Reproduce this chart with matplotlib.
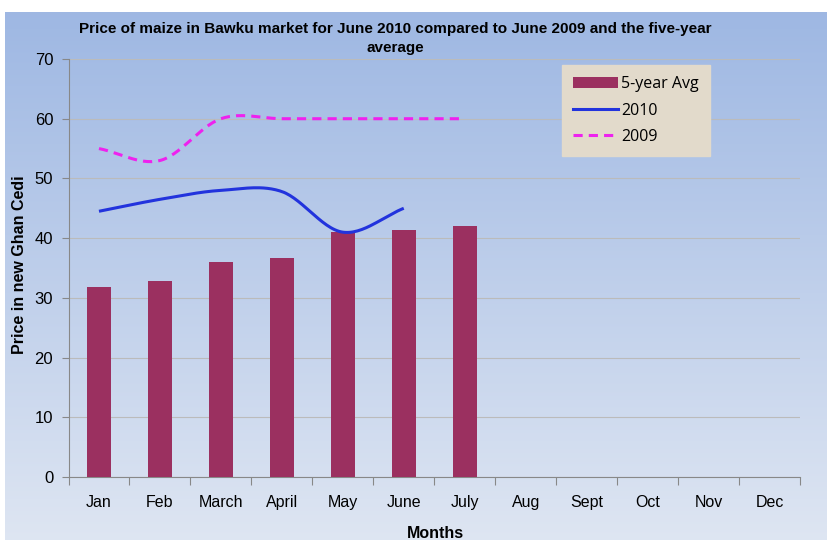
import numpy as np
import matplotlib
matplotlib.use("Agg")
import matplotlib.pyplot as plt
from matplotlib.lines import Line2D
from matplotlib.patches import Patch

months = ["Jan", "Feb", "March", "April", "May", "June", "July",
          "Aug", "Sept", "Oct", "Nov", "Dec"]
avg5 = [31.8, 32.8, 36.0, 36.7, 41.0, 41.3, 42.0]
y2010 = [44.5, 46.5, 48.0, 47.8, 41.0, 45.0]
y2009 = [55.0, 53.0, 60.0, 60.0, 60.0, 60.0, 60.0]
yticks = [0, 10, 20, 30, 40, 50, 60, 70]

narrow = ["Liberation Sans Narrow", "Liberation Sans", "DejaVu Sans"]


def smooth(xs, ys, n=30):
    xs = np.asarray(xs, float)
    ys = np.asarray(ys, float)
    px = np.concatenate([[2 * xs[0] - xs[1]], xs, [2 * xs[-1] - xs[-2]]])
    py = np.concatenate([[2 * ys[0] - ys[1]], ys, [2 * ys[-1] - ys[-2]]])
    ox, oy = [], []
    for i in range(1, len(px) - 2):
        t = np.linspace(0, 1, n, endpoint=(i == len(px) - 3))
        for arr, out in ((px, ox), (py, oy)):
            p0, p1, p2, p3 = arr[i - 1], arr[i], arr[i + 1], arr[i + 2]
            out.extend(0.5 * ((2 * p1) + (-p0 + p2) * t +
                              (2 * p0 - 5 * p1 + 4 * p2 - p3) * t ** 2 +
                              (-p0 + 3 * p1 - 3 * p2 + p3) * t ** 3))
    return np.array(ox), np.array(oy)


fig = plt.figure(figsize=(8.27, 5.40), dpi=100)

# background gradient panel
bg = fig.add_axes([5 / 827, 0, 1 - 5 / 827, 1 - 12 / 540])
grad = np.linspace(0, 1, 256)[:, None]
top = np.array([0.62, 0.72, 0.89])
bot = np.array([0.87, 0.90, 0.95])
img = top[None, None, :] * (1 - grad[:, :, None]) + bot[None, None, :] * grad[:, :, None]
bg.imshow(img, aspect="auto", extent=[0, 1, 0, 1])
bg.axis("off")

L, R, T, B = 68.5, 800, 59, 477
ax = fig.add_axes([L / 827, 1 - B / 540, (R - L) / 827, (B - T) / 540])
ax.patch.set_alpha(0)

x = np.arange(len(months))
ax.bar(x[:len(avg5)], avg5, width=0.4, color="#9B3060", zorder=3)
sx, sy = smooth(x[:len(y2010)], y2010)
ax.plot(sx, sy, color="#2233DD", lw=2.2, zorder=4, solid_capstyle="butt")
sx, sy = smooth(x[:len(y2009)], y2009)
ax.plot(sx, sy, color="#EE22EE", lw=2.2, ls=(0, (3, 2)), zorder=4)

ax.set_xlim(-0.5, len(months) - 0.5)
ax.set_ylim(0, 70)
ax.set_yticks(yticks)
ax.set_yticklabels([str(v) for v in yticks], fontsize=12, family=narrow)
ax.set_xticks(np.arange(-0.5, len(months), 1), minor=False)
ax.set_xticklabels([])
ax.set_xticks(x, minor=True)
ax.set_xticklabels(months, minor=True, fontsize=11.5, family=narrow)
ax.tick_params(axis="x", which="minor", length=0, pad=13)
ax.tick_params(axis="x", which="major", length=6, color="#888888", direction="out")
ax.tick_params(axis="y", length=5, color="#888888", pad=6)
ax.yaxis.grid(True, color="#BBBBBB", lw=0.8, zorder=0)
ax.set_axisbelow(True)
for s in ["top", "right"]:
    ax.spines[s].set_visible(False)
for s in ["left", "bottom"]:
    ax.spines[s].set_color("#888888")

fig.text(395 / 827, 1 - 29 / 540,
         "Price of maize in Bawku market for June 2010 compared to June 2009 and the five-year",
         ha="center", va="center", fontsize=11, fontweight="bold", family=narrow)
fig.text(395 / 827, 1 - 48 / 540, "average",
         ha="center", va="center", fontsize=11, fontweight="bold", family=narrow)
fig.text(20 / 827, 1 - 265 / 540, "Price in new Ghan Cedi", rotation=90,
         ha="center", va="center", fontsize=11.5, fontweight="bold", family=["Liberation Sans", "DejaVu Sans"])
fig.text(435 / 827, 1 - 533 / 540, "Months",
         ha="center", va="center", fontsize=11.5, fontweight="bold", family=narrow)

handles = [Patch(facecolor="#9B3060"),
           Line2D([], [], color="#2233DD", lw=2.2),
           Line2D([], [], color="#EE22EE", lw=2.2, ls=(0, (3, 2)))]
leg = fig.legend(handles, ["5-year Avg", "2010", "2009"],
                 loc="upper left", bbox_to_anchor=(562 / 827, 1 - 65 / 540),
                 frameon=True, fancybox=False,
                 prop={"family": ["Open Sans", "DejaVu Sans"], "size": 11.5},
                 handlelength=2.8, handletextpad=0.2, labelspacing=0.65,
                 borderpad=0.7, borderaxespad=0)
leg.get_frame().set_facecolor("#E2DACB")
leg.get_frame().set_edgecolor("#E2DACB")
leg.get_frame().set_alpha(1)

fig.savefig("out.png", dpi=100)
